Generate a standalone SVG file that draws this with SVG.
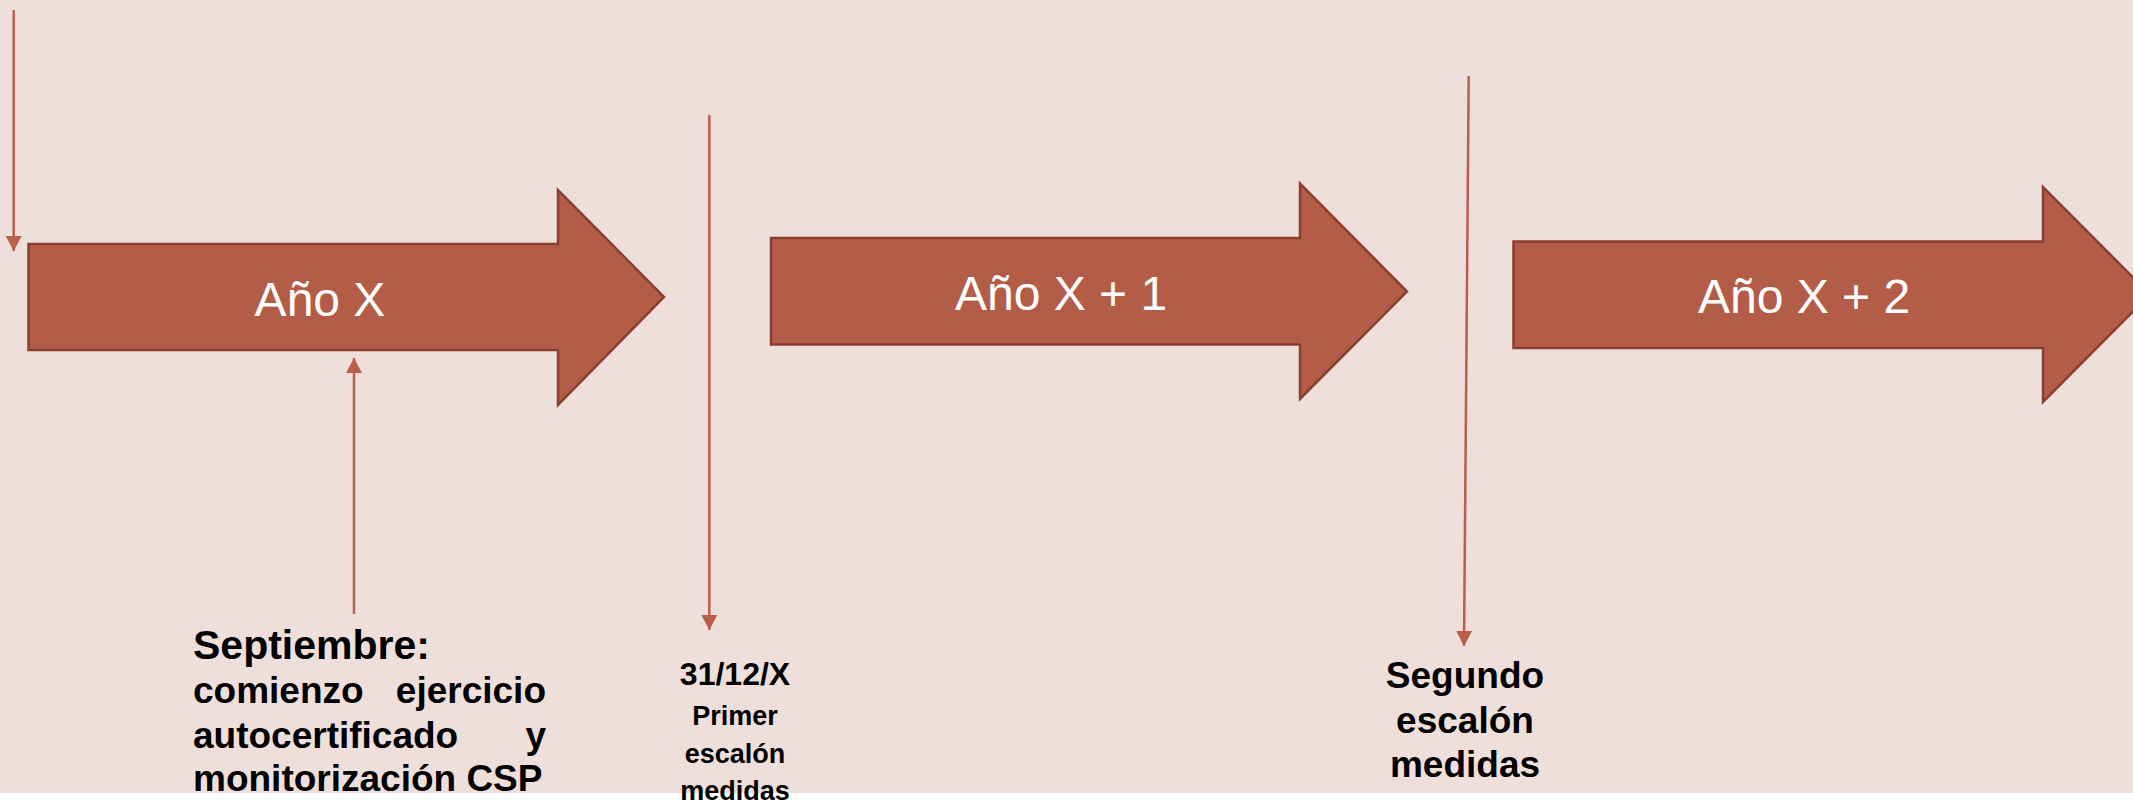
<svg xmlns="http://www.w3.org/2000/svg" width="2133" height="802" viewBox="0 0 2133 802">
  <defs>
    <style>
      .bar { fill: #B35C48; stroke: #8A3F2F; stroke-width: 2.5; stroke-linejoin: miter; }
      .yr { font-family: "Liberation Sans", Arial, sans-serif; font-size: 48px; fill: #FFFFFF; text-anchor: middle; }
      .lbl { font-family: "Liberation Sans", Arial, sans-serif; font-weight: bold; fill: #000000; }
      .conn { stroke: #BA5F4C; stroke-width: 2.5; fill: none; }
    </style>
    <marker id="ah" markerUnits="userSpaceOnUse" markerWidth="16" markerHeight="16" viewBox="0 0 16 16" refX="15" refY="8" orient="auto">
      <path d="M0,0 L15,8 L0,16 Z" fill="#BA5F4C"/>
    </marker>
  </defs>

  <rect x="0" y="0" width="2133" height="802" fill="#FFFFFF"/>
  <rect x="0" y="0" width="2133" height="793" fill="#EFDFDB"/>

  <g id="connectors">
    <line class="conn" x1="13.7" y1="10" x2="13.7" y2="251" marker-end="url(#ah)"/>
    <line class="conn" x1="354" y1="614" x2="354" y2="358" marker-end="url(#ah)"/>
    <line class="conn" x1="709.3" y1="115" x2="709.3" y2="630" marker-end="url(#ah)"/>
    <line class="conn" x1="1468.7" y1="76" x2="1464" y2="646" marker-end="url(#ah)"/>
  </g>

  <g id="year-x">
    <path class="bar" d="M28.5,244 H558 V190 L664,297 L558,405 V350 H28.5 Z"/>
    <text class="yr" x="320" y="316">Año X</text>
  </g>

  <g id="year-x1">
    <path class="bar" d="M771,238 H1300 V183.5 L1407,291.5 L1300,399 V344.5 H771 Z"/>
    <text class="yr" x="1061" y="310">Año X + 1</text>
  </g>

  <g id="year-x2">
    <path class="bar" d="M1513.5,241.5 H2043 V187 L2150,294.5 L2043,402 V348 H1513.5 Z"/>
    <text class="yr" x="1804" y="313">Año X + 2</text>
  </g>

  <g id="septiembre">
    <text class="lbl" x="193" y="659" font-size="41">Septiembre:</text>
    <text class="lbl" x="193" y="703" font-size="37">comienzo</text>
    <text class="lbl" x="546" y="703" font-size="37" text-anchor="end">ejercicio</text>
    <text class="lbl" x="193" y="748" font-size="37">autocertificado</text>
    <text class="lbl" x="546" y="748" font-size="37" text-anchor="end">y</text>
    <text class="lbl" x="193" y="791" font-size="37">monitorización CSP</text>
  </g>

  <g id="primer-escalon">
    <text class="lbl" x="735" y="685" font-size="32" text-anchor="middle">31/12/X</text>
    <text class="lbl" x="735" y="725" font-size="27" text-anchor="middle">Primer</text>
    <text class="lbl" x="735" y="763" font-size="27" text-anchor="middle">escalón</text>
    <text class="lbl" x="735" y="800" font-size="27" text-anchor="middle">medidas</text>
  </g>

  <g id="segundo-escalon">
    <text class="lbl" x="1465" y="688" font-size="37" text-anchor="middle">Segundo</text>
    <text class="lbl" x="1465" y="733" font-size="37" text-anchor="middle">escalón</text>
    <text class="lbl" x="1465" y="777" font-size="37" text-anchor="middle">medidas</text>
  </g>
</svg>
